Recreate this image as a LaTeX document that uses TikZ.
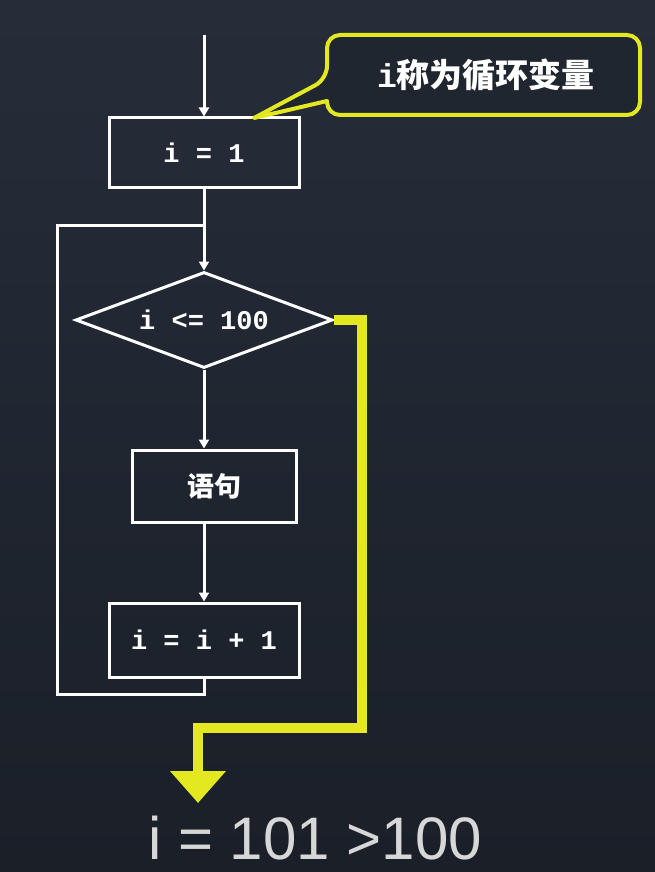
\documentclass[tikz,border=0pt]{standalone}
\usepackage{fontspec}
\setmainfont{Liberation Sans}
\setmonofont{Liberation Mono}
\newfontfamily\cjk{Noto Sans CJK SC}
\usetikzlibrary{arrows.meta,shapes.geometric}
\definecolor{bgtop}{RGB}{38,45,57}
\definecolor{bgbot}{RGB}{26,31,40}
\definecolor{ylw}{RGB}{228,232,32}
\definecolor{ltxt}{RGB}{215,215,215}
\tikzset{
  wline/.style={draw=white,line width=3pt},
  warrow/.style={wline,-{Triangle[width=10pt,length=9pt]}},
  procbox/.style={draw=white,line width=3pt,rectangle,inner sep=0pt,text=white,
    font=\ttfamily\bfseries\fontsize{27}{30}\selectfont},
  yline/.style={draw=ylw,line width=10pt,line join=miter,-{Triangle[width=54pt,length=32pt]}},
}
\begin{document}
\begin{tikzpicture}[x=1pt,y=-1pt]
\useasboundingbox (0,0) rectangle (655,872);
\shade[top color=bgtop,bottom color=bgbot] (0,0) rectangle (655,872);

% nodes
\coordinate (start) at (204,35);
\node[procbox,minimum width=190pt,minimum height=69pt] (b1) at (204,152.5) {i = 1};
\node[draw=white,line width=3pt,diamond,aspect=2.68,inner sep=0pt,
      minimum width=257pt,minimum height=96pt,text=white,
      font=\ttfamily\bfseries\fontsize{27}{30}\selectfont] (d) at (204,320) {i <= 100};
\node[procbox,minimum width=164pt,minimum height=72pt,font=\cjk\bfseries\fontsize{27}{30}\selectfont] (b2) at (214,486) {语句};
\node[procbox,minimum width=190pt,minimum height=74pt] (b3) at (204,640) {i = i + 1};

% main flow
\draw[warrow] (start) -- (start |- b1.north);
\draw[warrow] (b1.south) -- (d.north);
\draw[warrow] (d.south) -- (d.south |- b2.north);
\draw[warrow] (d.south |- b2.south) -- (d.south |- b3.north);

% loop back
\coordinate (lb) at (57,694);
\coordinate (lt) at (57,225);
\draw[wline,line join=miter] (b3.south) |- (lb) -- (lt) -- (lt -| b1.south);

% exit path
\coordinate (y1) at (362,320);
\coordinate (y2) at (362,728);
\coordinate (y3) at (198,728);
\coordinate (yend) at (198,803);
\draw[yline] (d.east) -- (y1) -- (y2) -- (y3) -- (yend);

\node[text=ltxt,font=\fontsize{60}{62}\selectfont,inner sep=0pt] (res) at (315,838) {i = 101 >100};

% callout
\coordinate (tip) at (254,118);
\draw[draw=ylw,line width=4pt,fill=bgtop!85!black,line join=round]
  (tip) -- (327,101) [rounded corners=13pt] -- (327,115) -- (640,115) -- (640,35) -- (327,35) -- (327,79) [sharp corners] -- cycle;
\node[text=white,inner sep=0pt] (cl) at (486,75)
  {\ttfamily\bfseries\fontsize{33}{36}\selectfont i\cjk\bfseries 称为循环变量};
\end{tikzpicture}
\end{document}
